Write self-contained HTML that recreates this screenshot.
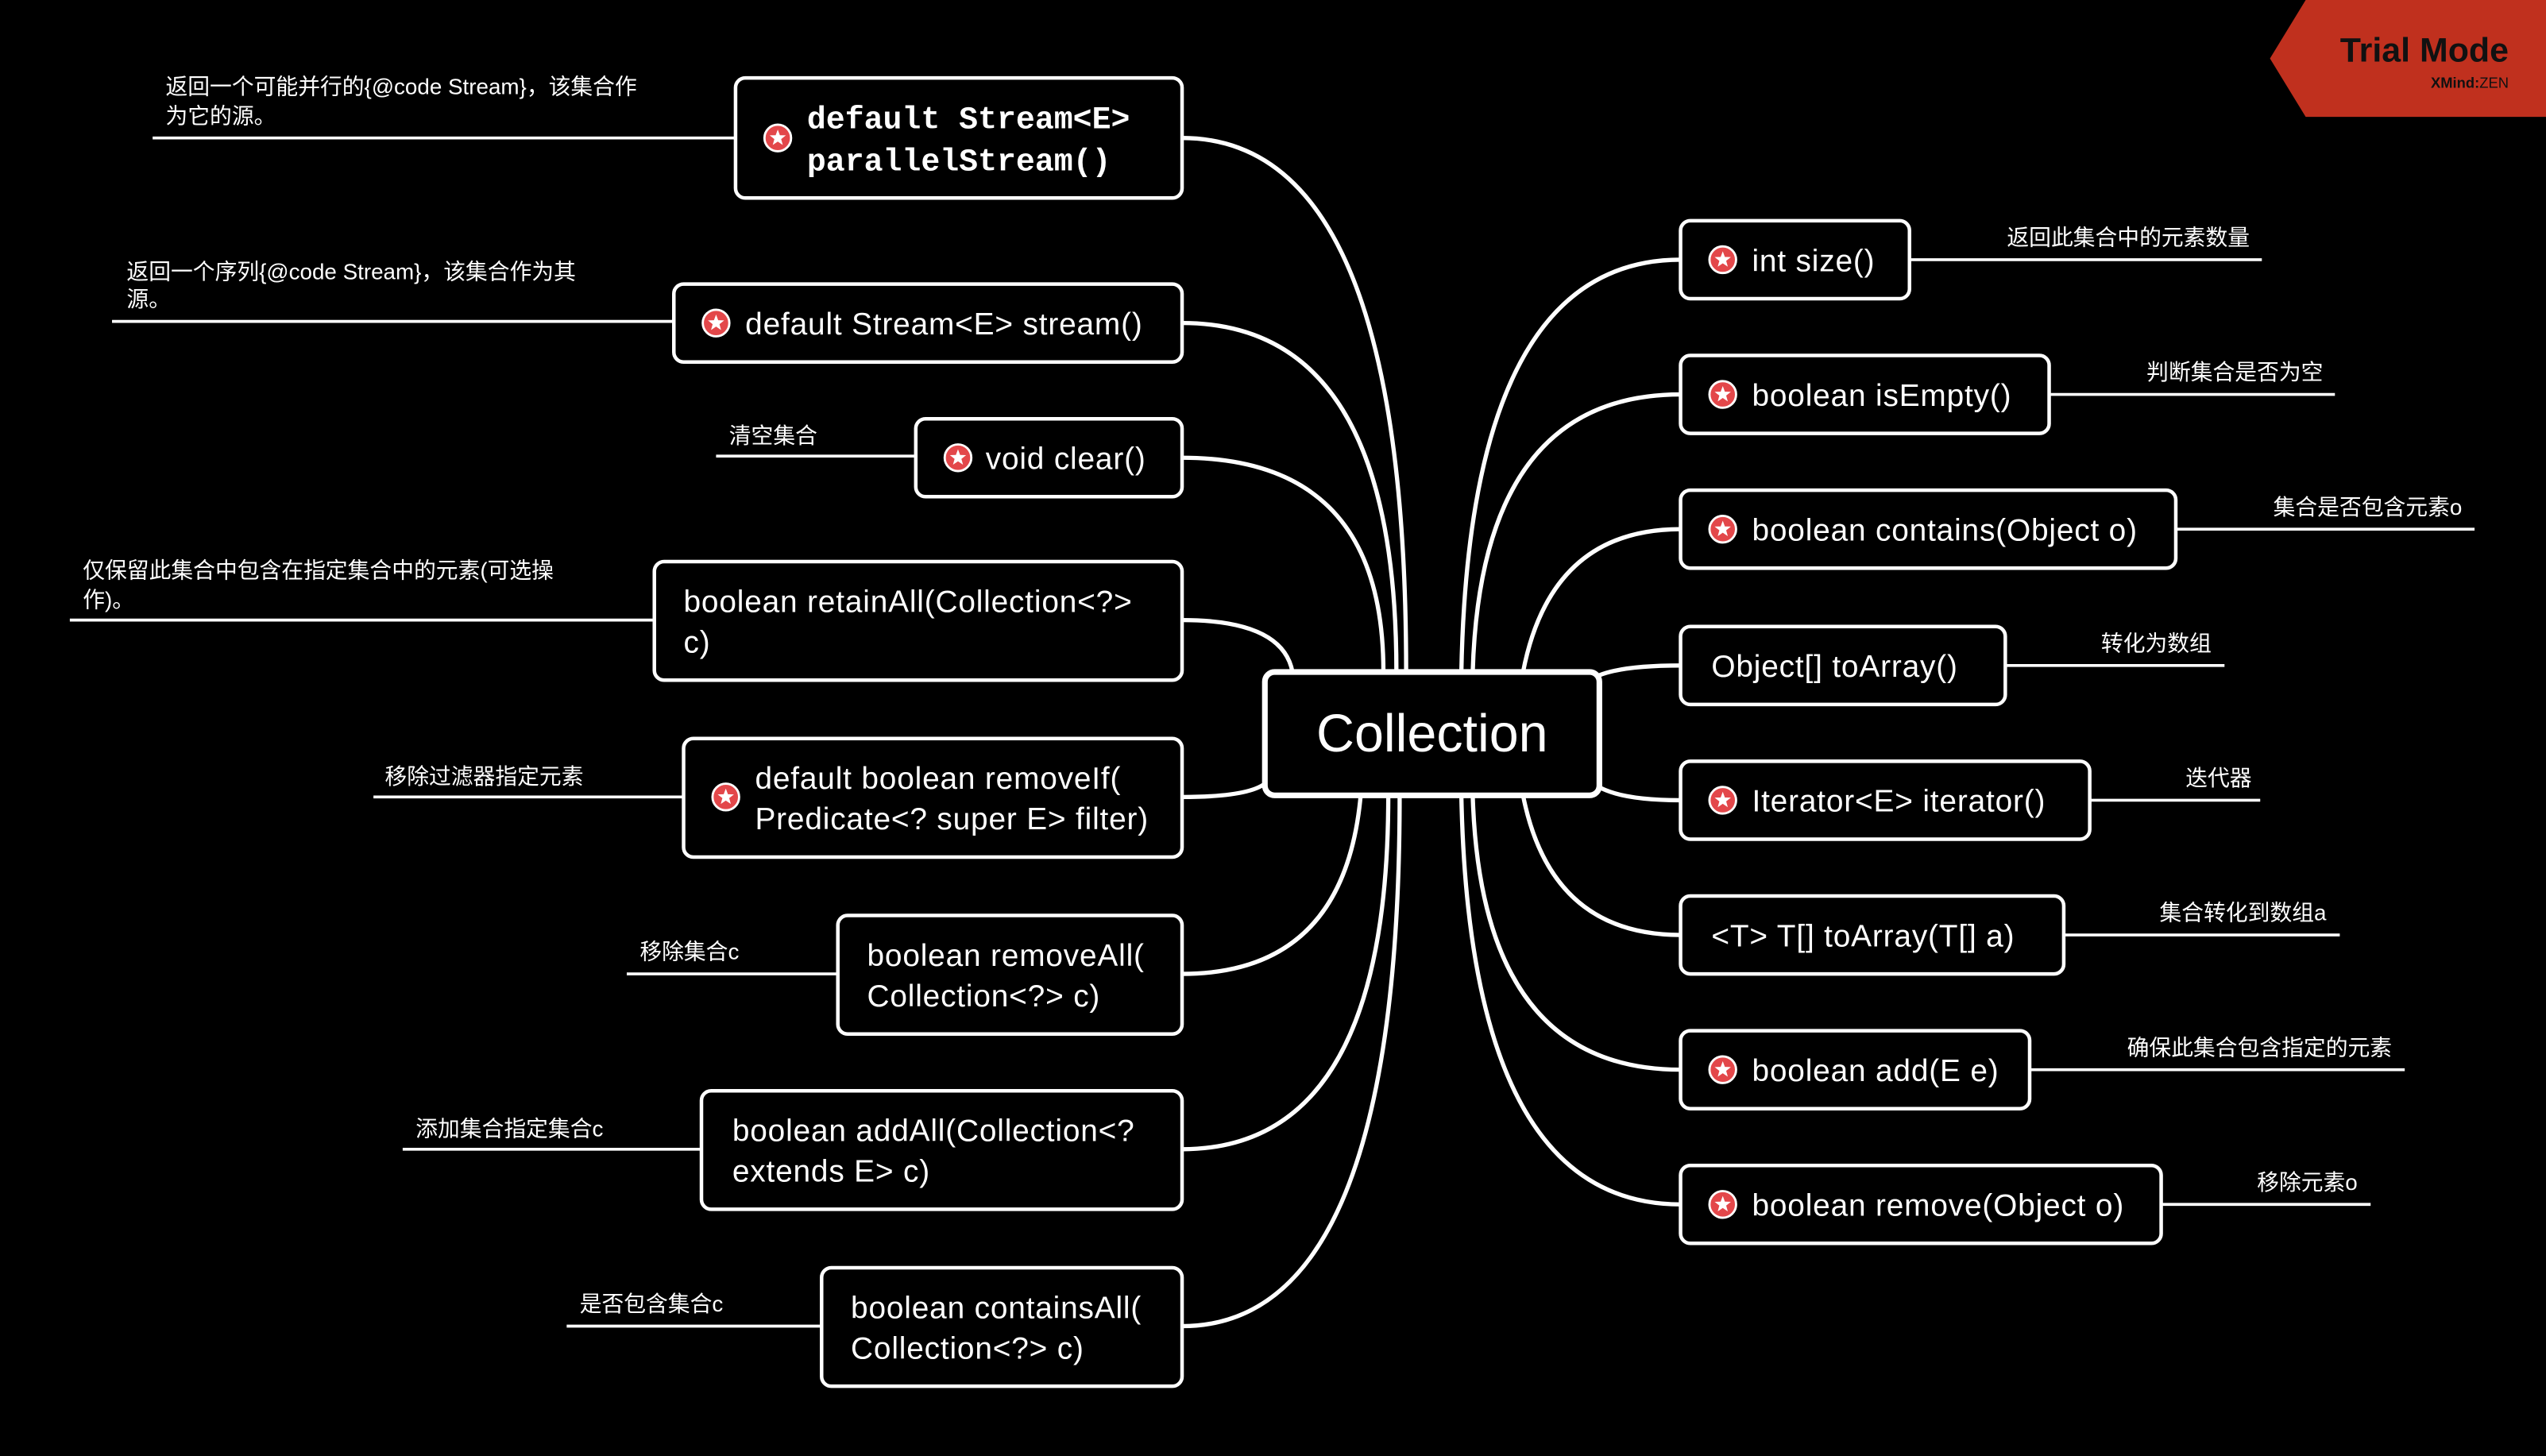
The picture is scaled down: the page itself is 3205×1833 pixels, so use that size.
<!DOCTYPE html>
<html><head><meta charset="utf-8"><style>
html,body{margin:0;padding:0;background:#000;}
svg{display:block;}
.n{font-family:"Liberation Sans","Noto Sans CJK SC",sans-serif;font-size:19px;letter-spacing:0.4px;fill:#fff;}
.m{font-family:"Liberation Mono",monospace;font-size:19.5px;font-weight:bold;fill:#fff;}
.t{font-family:"Liberation Sans","Noto Sans CJK SC",sans-serif;font-size:13.6px;fill:#fff;}
.b{fill:#000;stroke:#fff;stroke-width:2.2;}
.c{fill:none;stroke:#fff;stroke-width:2.6;}
.l{stroke:#fff;stroke-width:1.8;}
</style></head><body>
<svg width="3205" height="1833" viewBox="0 0 1568 897" preserveAspectRatio="none" xmlns="http://www.w3.org/2000/svg">
<defs>
<g id="ic"><circle r="8.2" fill="#e3474a" stroke="#fff" stroke-width="1.4"/><polygon fill="#fff" points="0,-5.2 1.3,-1.7 5,-1.6 2.1,0.7 3.1,4.3 0,2.2 -3.1,4.3 -2.1,0.7 -5,-1.6 -1.3,-1.7"/></g>
</defs>
<rect width="1568" height="897" fill="#000"/>
<path class="c" d="M866 414 Q866 85 728 85"/>
<path class="c" d="M860 414 Q860 199 728 199"/>
<path class="c" d="M852 414 Q852 282 728 282"/>
<path class="c" d="M796 414 Q790 382 728 382"/>
<path class="c" d="M780 482 Q770 491 728 491"/>
<path class="c" d="M838 490 Q828 600 728 600"/>
<path class="c" d="M855 490 Q855 708 728 708"/>
<path class="c" d="M862 490 Q862 817 728 817"/>
<path class="c" d="M900 414 Q905 160 1035 160"/>
<path class="c" d="M907 414 Q912 243 1035 243"/>
<path class="c" d="M938 414 Q955 326 1035 326"/>
<path class="c" d="M985 416 Q1000 410 1035 410"/>
<path class="c" d="M985 485 Q1000 493 1035 493"/>
<path class="c" d="M938 490 Q955 576 1035 576"/>
<path class="c" d="M907 490 Q912 659 1035 659"/>
<path class="c" d="M900 490 Q905 742 1035 742"/>
<rect x="779" y="414" width="206" height="76" rx="6" fill="#000" stroke="#fff" stroke-width="3.5"/>
<text x="882" y="463" text-anchor="middle" font-family="Liberation Sans,sans-serif" font-size="32.5" fill="#fff">Collection</text>
<line class="l" x1="94" y1="85" x2="453" y2="85"/>
<text class="t" x="102" y="58">返回一个可能并行的{@code Stream}，该集合作</text>
<text class="t" x="102" y="76">为它的源。</text>
<line class="l" x1="69" y1="198" x2="415" y2="198"/>
<text class="t" x="78" y="172">返回一个序列{@code Stream}，该集合作为其</text>
<text class="t" x="78" y="189">源。</text>
<line class="l" x1="441" y1="281" x2="564" y2="281"/>
<text class="t" x="449" y="273">清空集合</text>
<line class="l" x1="43" y1="382" x2="403" y2="382"/>
<text class="t" x="51" y="356">仅保留此集合中包含在指定集合中的元素(可选操</text>
<text class="t" x="51" y="374">作)。</text>
<line class="l" x1="230" y1="491" x2="421" y2="491"/>
<text class="t" x="237" y="483">移除过滤器指定元素</text>
<line class="l" x1="386" y1="600" x2="516" y2="600"/>
<text class="t" x="394" y="591">移除集合c</text>
<line class="l" x1="248" y1="708" x2="432" y2="708"/>
<text class="t" x="256" y="700">添加集合指定集合c</text>
<line class="l" x1="349" y1="817" x2="506" y2="817"/>
<text class="t" x="357" y="808">是否包含集合c</text>
<rect class="b" x="453" y="48" width="275" height="74" rx="6"/>
<use href="#ic" x="479" y="85"/>
<text class="m" x="497" y="79">default Stream&lt;E&gt;</text>
<text class="m" x="497" y="105">parallelStream()</text>
<rect class="b" x="415" y="175" width="313" height="48" rx="6"/>
<use href="#ic" x="441" y="199"/>
<text class="n" x="459" y="206">default Stream&lt;E&gt; stream()</text>
<rect class="b" x="564" y="258" width="164" height="48" rx="6"/>
<use href="#ic" x="590" y="282"/>
<text class="n" x="607" y="289">void clear()</text>
<rect class="b" x="403" y="346" width="325" height="73" rx="6"/>
<text class="n" x="421" y="377">boolean retainAll(Collection&lt;?&gt;</text>
<text class="n" x="421" y="402">c)</text>
<rect class="b" x="421" y="455" width="307" height="73" rx="6"/>
<use href="#ic" x="447" y="491"/>
<text class="n" x="465" y="486">default boolean removeIf(</text>
<text class="n" x="465" y="511">Predicate&lt;? super E&gt; filter)</text>
<rect class="b" x="516" y="564" width="212" height="73" rx="6"/>
<text class="n" x="534" y="595">boolean removeAll(</text>
<text class="n" x="534" y="620">Collection&lt;?&gt; c)</text>
<rect class="b" x="432" y="672" width="296" height="73" rx="6"/>
<text class="n" x="451" y="703">boolean addAll(Collection&lt;?</text>
<text class="n" x="451" y="728">extends E&gt; c)</text>
<rect class="b" x="506" y="781" width="222" height="73" rx="6"/>
<text class="n" x="524" y="812">boolean containsAll(</text>
<text class="n" x="524" y="837">Collection&lt;?&gt; c)</text>
<line class="l" x1="1176" y1="160" x2="1393" y2="160"/>
<text class="t" x="1236" y="151">返回此集合中的元素数量</text>
<line class="l" x1="1262" y1="243" x2="1438" y2="243"/>
<text class="t" x="1322" y="234">判断集合是否为空</text>
<line class="l" x1="1340" y1="326" x2="1524" y2="326"/>
<text class="t" x="1400" y="317">集合是否包含元素o</text>
<line class="l" x1="1235" y1="410" x2="1370" y2="410"/>
<text class="t" x="1294" y="401">转化为数组</text>
<line class="l" x1="1287" y1="493" x2="1392" y2="493"/>
<text class="t" x="1346" y="484">迭代器</text>
<line class="l" x1="1271" y1="576" x2="1441" y2="576"/>
<text class="t" x="1330" y="567">集合转化到数组a</text>
<line class="l" x1="1250" y1="659" x2="1481" y2="659"/>
<text class="t" x="1310" y="650">确保此集合包含指定的元素</text>
<line class="l" x1="1331" y1="742" x2="1460" y2="742"/>
<text class="t" x="1390" y="733">移除元素o</text>
<rect class="b" x="1035" y="136" width="141" height="48" rx="6"/>
<use href="#ic" x="1061" y="160"/>
<text class="n" x="1079" y="167">int size()</text>
<rect class="b" x="1035" y="219" width="227" height="48" rx="6"/>
<use href="#ic" x="1061" y="243"/>
<text class="n" x="1079" y="250">boolean isEmpty()</text>
<rect class="b" x="1035" y="302" width="305" height="48" rx="6"/>
<use href="#ic" x="1061" y="326"/>
<text class="n" x="1079" y="333">boolean contains(Object o)</text>
<rect class="b" x="1035" y="386" width="200" height="48" rx="6"/>
<text class="n" x="1054" y="417">Object[] toArray()</text>
<rect class="b" x="1035" y="469" width="252" height="48" rx="6"/>
<use href="#ic" x="1061" y="493"/>
<text class="n" x="1079" y="500">Iterator&lt;E&gt; iterator()</text>
<rect class="b" x="1035" y="552" width="236" height="48" rx="6"/>
<text class="n" x="1054" y="583">&lt;T&gt; T[] toArray(T[] a)</text>
<rect class="b" x="1035" y="635" width="215" height="48" rx="6"/>
<use href="#ic" x="1061" y="659"/>
<text class="n" x="1079" y="666">boolean add(E e)</text>
<rect class="b" x="1035" y="718" width="296" height="48" rx="6"/>
<use href="#ic" x="1061" y="742"/>
<text class="n" x="1079" y="749">boolean remove(Object o)</text>
<polygon points="1420,0 1568,0 1568,72 1420,72 1398,36" fill="#c0301e"/>
<text x="1545" y="38" text-anchor="end" font-family="Liberation Sans,sans-serif" font-size="21" font-weight="bold" fill="#111">Trial Mode</text>
<text x="1545" y="54" text-anchor="end" font-family="Liberation Sans,sans-serif" font-size="9" fill="#111"><tspan font-weight="bold">XMind:</tspan>ZEN</text>
</svg>
</body></html>
